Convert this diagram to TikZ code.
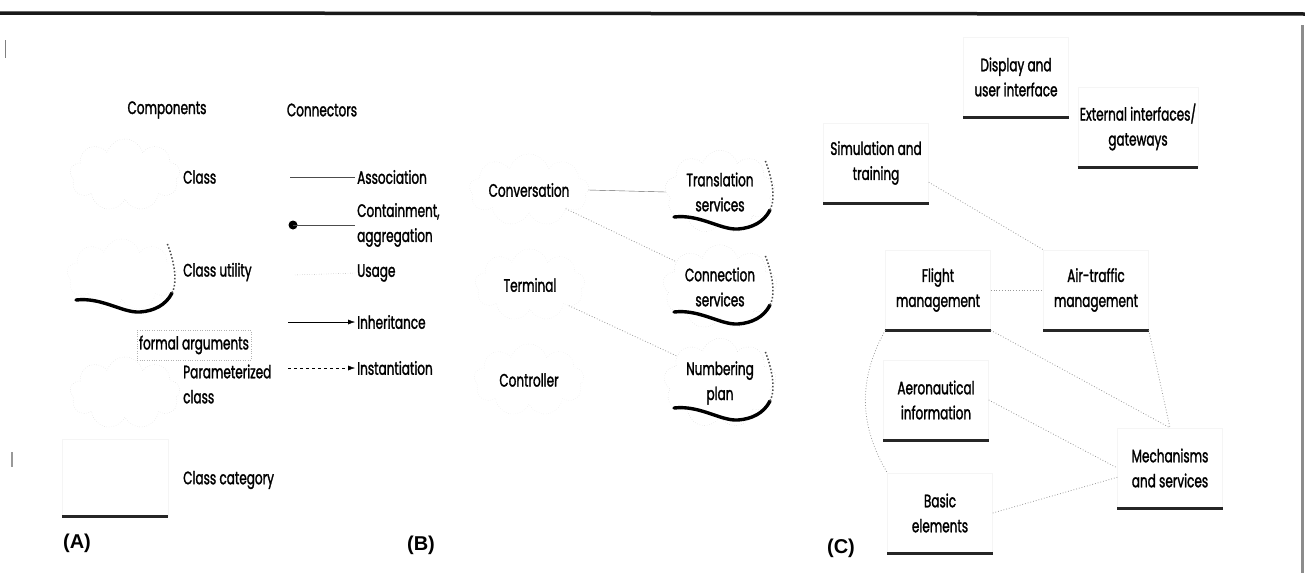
\documentclass[tikz,border=0pt]{standalone}
\usepackage{fontspec}
\setmainfont{Poppins}[FakeStretch=0.67, FakeBold=1.5]
\newfontfamily\lettrefont{Liberation Sans}
\usepackage{tikz}
\usetikzlibrary{positioning}
\usetikzlibrary{calc}
\usetikzlibrary{shapes.symbols}
\usetikzlibrary{arrows.meta}

\tikzset{
  etiq/.style={font=\fontsize{18}{25}\selectfont, inner sep=2pt},
  nuage/.style={cloud, cloud puffs=9, cloud ignores aspect, draw=black!20, dotted,
    minimum width=110pt, minimum height=72pt, etiq, align=center},
  categ/.style={rectangle, draw=black!4, minimum width=105pt, minimum height=80pt,
    etiq, align=center},
  ombre/.style={line width=3.4pt, black, line cap=round},
  ombrept/.style={line width=1.5pt, black!70, dotted},
  socle/.style={line width=2.8pt, black!85},
  lien/.style={black!40, dotted, line width=0.8pt},
  lettre/.style={font=\lettrefont\bfseries\fontsize{20}{22}\selectfont}
}

\begin{document}
\begin{tikzpicture}[x=1pt,y=-1pt]
            \useasboundingbox (0,0) rectangle (1305,573);

            % Cadre de la figure
            \draw[line width=3.5pt, black!90] (0,13) -- (1305,14);
            \draw[line width=3pt, black!45] (1302,25) -- (1302,573);
            \draw[line width=1pt, black!50] (5,40) -- (5,58);
            \draw[line width=1.5pt, black!40] (12,452) -- (12,467);

            % Partie (A) : composants
            \node[etiq] (comp) at (167,110) {Components};
            \node[etiq] (conn) at (322,110) {Connectors};
            \node[nuage] (cl) at (125,175) {};
            \node[etiq, anchor=west] (cll) at (181,177) {Class};
            \node[nuage, draw=black!12] (cu) at (122,275) {};
            \node[etiq, anchor=west] (cul) at (181,272) {Class utility};
            \node[nuage] (pc) at (125,393) {};
            \node[etiq, draw=black!30, dotted, minimum width=112pt, minimum height=30pt] (fa) at (194,345) {formal arguments};
            \node[etiq, anchor=west, align=left] (pcl) at (181,384) {Parameterized\\class};
            \node[categ, minimum width=106pt, minimum height=77pt] (cc) at (115,478) {};
            \draw[socle] (cc.south west) -- (cc.south east);
            \node[etiq, anchor=west] (ccl) at (181,480) {Class category};

            % Partie (A) : connecteurs
            \node[etiq, anchor=west] (as) at (355,177) {Association};
            \node[etiq, anchor=west, align=left] (ct) at (355,225) {Containment,\\aggregation};
            \node[etiq, anchor=west] (us) at (355,273) {Usage};
            \node[etiq, anchor=west] (he) at (355,322) {Inheritance};
            \node[etiq, anchor=west] (in) at (355,368) {Instantiation};
            \coordinate (as0) at (290,177);
            \coordinate (ct0) at (293,225);
            \coordinate (us0) at (295,275);
            \coordinate (he0) at (288,322);
            \coordinate (in0) at (288,368);
            \draw[black!70] (as0) -- (as.west);
            \fill (ct0) circle (4.5pt);
            \draw[black!70] (ct0) -- (ct.west);
            \draw[black!45, dotted] (us0) -- (us.west);
            \draw[-{Latex[length=7pt,width=5pt]}] (he0) -- (he.west);
            \draw[dashed, -{Latex[length=7pt,width=5pt]}] (in0) -- (in.west);
            \node[lettre] (la) at (77,543) {(A)};

            % Partie (B)
            \node[nuage, draw=black!12] (cv) at (529,190) {Conversation};
            \node[nuage, draw=black!12] (te) at (530,285) {Terminal};
            \node[nuage, draw=black!12] (co) at (529,380) {Controller};
            \node[nuage] (ts) at (720,192) {Translation\\services};
            \node[nuage] (cs) at (720,287) {Connection\\services};
            \node[nuage] (np) at (720,383) {Numbering\\plan};
            \draw[black!60] (cv.east) -- (ts.west);
            \draw[lien] (cv.-27) -- (cs.150);
            \draw[lien] (te.-28) -- (np.148);
            \node[lettre] (lb) at (421,545) {(B)};

            % Ombres des nuages
            \foreach \n in {cu,ts,cs,np} {
                \draw[ombre] ($(\n.center)+(-46,25)$) .. controls ($(\n.center)+(-20,22)$) and ($(\n.center)+(0,38)$) .. ($(\n.center)+(18,37)$) .. controls ($(\n.center)+(32,36)$) and ($(\n.center)+(44,30)$) .. ($(\n.center)+(50,18)$);
                \draw[ombrept] ($(\n.center)+(50,18)$) .. controls ($(\n.center)+(57,5)$) and ($(\n.center)+(50,-20)$) .. ($(\n.center)+(45,-32)$);
            }

            % Partie (C) : catégories
            \node[categ] (di) at (1016,77) {Display and\\user interface};
            \node[categ, minimum width=115pt] (ex) at (1138,127) {External interfaces/\\gateways};
            \node[categ] (si) at (876,163) {Simulation and\\training};
            \node[categ] (fl) at (938,290) {Flight\\management};
            \node[categ] (at) at (1096,290) {Air-traffic\\management};
            \node[categ] (ae) at (936,400) {Aeronautical\\information};
            \node[categ] (me) at (1170,468) {Mechanisms\\and services};
            \node[categ] (ba) at (940,513) {Basic\\elements};
            \foreach \n in {di,ex,si,fl,at,ae,me,ba}
                \draw[socle] (\n.south west) -- (\n.south east);

            % Liens entre catégories
            \draw[lien] (si.-20) -- (at.north west);
            \draw[lien] (fl.east) -- (at.west);
            \draw[lien] (fl.south east) -- (me.north);
            \draw[lien] (at.south east) -- (me.north);
            \draw[lien] (ae.east) -- (me.west);
            \draw[lien] (ba.east) -- (me.190);
            \draw[lien] (fl.south west) to[bend right=30] (ba.north west);
            \node[lettre] (lc) at (841,548) {(C)};
        \end{tikzpicture}
\end{document}
